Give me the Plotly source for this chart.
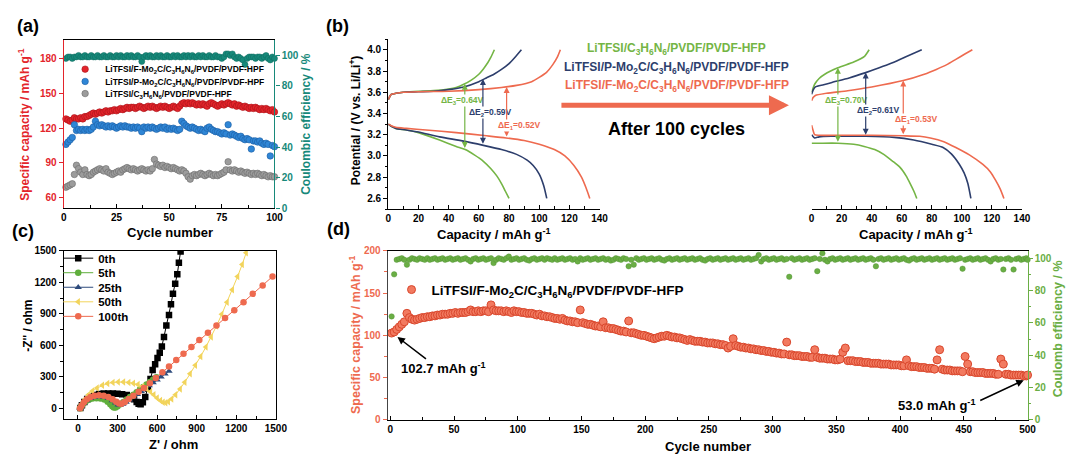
import plotly.graph_objects as go

# ======================= DATA =======================
# ---- panel (a): cycling 100 cycles ----
cycles_a = list(range(1, 101))
cap_F_a = [128, 127, 126, 127, 129, 128, 128, 129, 128, 130,
           130, 131, 132, 133, 132, 133, 134, 133, 134, 135,
           134, 135, 135, 136, 135, 136, 137, 136, 137, 138,
           137, 138, 138, 137, 138, 139, 138, 137, 138, 139,
           138, 139, 138, 137, 138, 139, 138, 139, 138, 137,
           138, 139, 138, 137, 139, 141, 142, 141, 142, 141,
           142, 141, 140, 141, 140, 141, 140, 139, 141, 142,
           141, 140, 139, 140, 141, 140, 141, 142, 141, 140,
           141, 139, 140, 139, 138, 139, 138, 137, 138, 137,
           138, 137, 136, 137, 136, 137, 136, 135, 136, 134]
cap_P_a = [106, 108, 110, 112, 123, 118, 119, 118, 119, 118,
           119, 118, 119, 121, 126, 123, 122, 123, 122, 121,
           122, 121, 122, 121, 120, 121, 122, 121, 122, 121,
           121, 120, 121, 120, 121, 120, 117, 121, 120, 121,
           120, 121, 120, 119, 120, 121, 120, 121, 119, 120,
           119, 120, 119, 118, 119, 126, 124, 122, 121, 120,
           121, 120, 119, 118, 119, 118, 117, 120, 121, 119,
           118, 117, 117, 116, 115, 116, 115, 123, 114, 115,
           114, 113, 112, 113, 111, 110, 111, 110, 102, 109,
           109, 108, 109, 107, 106, 107, 106, 96, 105, 104]
cap_0_a = [69, 70, 71, 72, 80, 88, 85, 82, 80, 84,
           80, 79, 80, 82, 83, 84, 85, 84, 83, 85,
           82, 81, 80, 81, 82, 83, 82, 84, 85, 86,
           85, 84, 85, 84, 83, 84, 85, 84, 83, 84,
           83, 85, 93, 89, 88, 87, 88, 86, 87, 86,
           85, 86, 85, 84, 83, 84, 83, 81, 78, 76,
           79, 80, 79, 80, 81, 80, 79, 80, 81, 80,
           79, 80, 79, 80, 81, 82, 84, 91, 84, 83,
           84, 83, 82, 83, 82, 81, 82, 81, 80, 81,
           80, 81, 80, 79, 80, 79, 78, 79, 78, 78]
ce_a = [98, 99, 99, 98, 99, 99, 100, 99, 99, 100,
        99, 99, 100, 99, 99, 100, 99, 99, 100, 99,
        99, 100, 99, 99, 100, 99, 100, 99, 99, 100,
        99, 100, 99, 99, 100, 99, 96, 99, 100, 99,
        100, 99, 99, 100, 99, 100, 99, 99, 100, 99,
        99, 100, 99, 100, 99, 99, 100, 99, 100, 99,
        100, 99, 99, 100, 99, 100, 99, 99, 100, 99,
        99, 100, 99, 99, 98, 99, 101, 101, 100, 101,
        99, 98, 99, 98, 97, 94, 98, 99, 99, 99,
        98, 99, 99, 98, 99, 100, 98, 97, 99, 98]
names_a = ["LiTFSI/F-Mo<sub>2</sub>C/C<sub>3</sub>H<sub>6</sub>N<sub>6</sub>/PVDF/PVDF-HPF",
           "LiTFSI/P-Mo<sub>2</sub>C/C<sub>3</sub>H<sub>6</sub>N<sub>6</sub>/PVDF/PVDF-HPF",
           "LiTFSI/C<sub>3</sub>H<sub>6</sub>N<sub>6</sub>/PVDF/PVDF-HPF"]

# ---- panel (b): charge/discharge profiles ----
names_b = ["LiTFSI/C<sub>3</sub>H<sub>6</sub>N<sub>6</sub>/PVDF/PVDF-HFP",
           "LiTFSI/P-Mo<sub>2</sub>C/C<sub>3</sub>H<sub>6</sub>N<sub>6</sub>/PVDF/PVDF-HFP",
           "LiTFSI/F-Mo<sub>2</sub>C/C<sub>3</sub>H<sub>6</sub>N<sub>6</sub>/PVDF/PVDF-HFP"]
# fresh cells
g_ch_cap = [0, 1, 2, 5, 10, 20, 30, 40, 45, 50, 55, 60, 63, 66, 68, 70.3]
g_ch_v = [3.53, 3.56, 3.58, 3.59, 3.60, 3.61, 3.615, 3.63, 3.645, 3.675, 3.715, 3.77, 3.82, 3.88, 3.93, 4.0]
b_ch_cap = [0, 1, 2, 5, 10, 20, 30, 40, 50, 60, 65, 70, 75, 80, 84, 88.2]
b_ch_v = [3.53, 3.56, 3.58, 3.59, 3.60, 3.605, 3.61, 3.625, 3.65, 3.70, 3.735, 3.77, 3.815, 3.87, 3.93, 4.0]
r_ch_cap = [0, 1, 2, 5, 10, 20, 40, 60, 75, 85, 95, 100, 105, 109, 112, 114]
r_ch_v = [3.53, 3.56, 3.58, 3.59, 3.60, 3.605, 3.61, 3.625, 3.645, 3.665, 3.70, 3.74, 3.79, 3.86, 3.93, 4.0]
g_dc_cap = [0, 2, 5, 12, 20, 34, 45, 51, 57, 63, 68, 72, 75, 77.5, 80]
g_dc_v = [3.30, 3.28, 3.26, 3.245, 3.22, 3.15, 3.09, 3.06, 3.01, 2.95, 2.88, 2.81, 2.74, 2.67, 2.6]
b_dc_cap = [0, 2, 5, 12, 20, 34, 50, 63, 75, 85, 92, 96, 100, 103, 105]
b_dc_v = [3.30, 3.28, 3.26, 3.245, 3.225, 3.18, 3.14, 3.10, 3.06, 3.015, 2.96, 2.91, 2.83, 2.72, 2.6]
r_dc_cap = [0, 2, 5, 12, 25, 45, 65, 78, 90, 100, 110, 117, 123, 128, 131, 133.5]
r_dc_v = [3.30, 3.285, 3.27, 3.26, 3.245, 3.22, 3.19, 3.17, 3.145, 3.11, 3.06, 3.0, 2.91, 2.80, 2.70, 2.6]
# after 100 cycles
g_ch_cap2 = [0, 1, 2.2, 5, 8.75, 17.5, 28, 35, 38.3]
g_ch_v2 = [3.60, 3.64, 3.68, 3.73, 3.77, 3.83, 3.885, 3.935, 4.0]
b_ch_cap2 = [0, 1, 2.5, 8, 13, 25, 36, 45, 52.5, 62, 73.3]
b_ch_v2 = [3.58, 3.62, 3.65, 3.67, 3.69, 3.735, 3.785, 3.83, 3.87, 3.93, 4.0]
r_ch_cap2 = [0, 1, 2.5, 10, 24, 40, 61, 75, 83, 90, 96, 102, 107]
r_ch_v2 = [3.52, 3.55, 3.57, 3.59, 3.615, 3.65, 3.71, 3.77, 3.815, 3.86, 3.91, 3.96, 4.0]
r_dc_cap2 = [0, 1, 2, 5, 20, 40, 61, 72, 79, 88, 96, 105, 114, 119, 122.5, 125.5, 128]
r_dc_v2 = [3.29, 3.24, 3.2, 3.195, 3.195, 3.195, 3.19, 3.185, 3.17, 3.135, 3.08, 3.01, 2.92, 2.85, 2.77, 2.69, 2.6]
b_dc_cap2 = [0, 2, 5, 13, 36, 55, 68, 80, 87.5, 93, 98.4, 101.5, 104, 106]
b_dc_v2 = [3.20, 3.17, 3.18, 3.185, 3.185, 3.175, 3.15, 3.11, 3.08, 3.02, 2.92, 2.84, 2.74, 2.6]
g_dc_cap2 = [0, 5, 17.5, 28, 35, 42, 48, 54, 59, 63, 65.6, 68, 70]
g_dc_v2 = [3.12, 3.12, 3.12, 3.11, 3.09, 3.06, 3.015, 2.95, 2.89, 2.81, 2.74, 2.67, 2.6]
# polarization markers (capacity, charge V, discharge V, label)
dE_fresh = [(50.7, 3.68, 3.06, "ΔE<sub>3</sub>=0.64V"), (62.7, 3.725, 3.10, "ΔE<sub>2</sub>=0.59V"),
            (78.4, 3.65, 3.17, "ΔE<sub>1</sub>=0.52V")]
dE_after = [(17.5, 3.83, 3.12, "ΔE<sub>3</sub>=0.70V"), (36, 3.785, 3.185, "ΔE<sub>2</sub>=0.61V"),
            (61, 3.71, 3.19, "ΔE<sub>1</sub>=0.53V")]

# ---- panel (c): EIS ----
eis_names = ["0th", "5th", "25th", "50th", "100th"]
Zr_0 = [18, 30, 48, 70, 95, 125, 160, 195, 230, 265, 300, 335, 370, 400, 425, 445, 460, 475, 492, 510,
        530, 550, 566, 585, 603, 620, 636, 652, 670, 690, 705, 720, 737, 753, 765, 778]
Zi_0 = [5, 30, 62, 90, 112, 128, 138, 142, 143, 142, 140, 136, 128, 112, 88, 62, 45, 40, 60, 110,
        190, 280, 365, 420, 479, 530, 590, 680, 789, 888, 990, 1092, 1185, 1277, 1385, 1494]
Zr_5 = [15, 25, 40, 60, 85, 110, 140, 170, 200, 225, 245, 260, 272, 285, 300, 320, 345, 370, 395, 420,
        445, 470, 495, 520, 545, 570, 595]
Zi_5 = [3, 22, 45, 68, 85, 95, 98, 95, 85, 65, 40, 20, 8, 10, 22, 40, 62, 85, 108, 130,
        155, 180, 205, 228, 252, 275, 298]
Zr_25 = [15, 28, 45, 68, 95, 125, 160, 195, 230, 260, 285, 305, 320, 340, 365, 390, 420, 450, 480, 510,
         540, 570, 600, 630, 660, 690]
Zi_25 = [3, 25, 50, 75, 95, 108, 112, 108, 95, 75, 52, 35, 32, 42, 60, 82, 108, 135, 162, 190,
         218, 245, 272, 300, 328, 355]
Zr_50 = [20, 35, 55, 80, 110, 145, 185, 225, 265, 305, 345, 385, 420, 455, 490, 520, 550, 575, 600, 625,
         645, 665, 685, 710, 740, 775, 810, 850, 890, 930, 970, 1010, 1050, 1090, 1130, 1170, 1210, 1245, 1275]
Zi_50 = [3, 45, 90, 130, 165, 195, 220, 238, 248, 252, 252, 248, 240, 228, 210, 188, 160, 130, 100, 75,
         60, 55, 65, 90, 130, 185, 250, 330, 410, 495, 585, 680, 785, 895, 1010, 1130, 1255, 1370, 1480]
Zr_100 = [15, 28, 45, 68, 95, 125, 160, 195, 230, 262, 290, 312, 330, 355, 385, 420, 460, 500, 545, 590,
          640, 690, 745, 800, 860, 920, 985, 1050, 1115, 1185, 1255, 1325, 1400, 1475]
Zi_100 = [3, 28, 58, 88, 110, 122, 126, 122, 108, 88, 65, 48, 45, 62, 90, 122, 158, 195, 240, 290,
          345, 400, 460, 520, 585, 650, 720, 790, 860, 935, 1010, 1090, 1170, 1255]

# ---- panel (d): long cycling (every 2nd cycle) ----
cycles_d = list(range(1, 500, 2)) + [500]
cap_d = [102.7, 104, 107, 110, 113, 116, 126, 121, 119, 118,
         119, 120, 121, 121, 122, 122, 123, 123, 124, 124,
         125, 125, 125, 126, 126, 127, 126, 127, 127, 127,
         128, 130, 128, 128, 129, 128, 129, 129, 128, 136,
         130, 129, 129, 129, 128, 129, 128, 127, 129, 128,
         128, 127, 127, 126, 126, 126, 125, 124, 125, 123,
         123, 122, 122, 121, 120, 120, 119, 120, 118, 117,
         117, 116, 116, 115, 130, 115, 114, 113, 113, 112,
         111, 111, 110, 116, 109, 109, 108, 108, 107, 106,
         105, 105, 104, 117, 103, 103, 102, 101, 100, 100,
         99, 98, 97, 96, 97, 98, 99, 99, 100, 99,
         98, 98, 97, 97, 96, 95, 94, 95, 94, 93,
         93, 93, 92, 92, 91, 91, 91, 90, 90, 89,
         89, 88, 85, 87, 96, 88, 87, 86, 86, 85,
         85, 84, 84, 83, 83, 82, 82, 81, 81, 80,
         80, 79, 79, 78, 78, 92, 77, 77, 76, 76,
         76, 75, 75, 75, 74, 74, 83, 74, 73, 73,
         73, 72, 72, 72, 71, 71, 72, 80, 85, 70,
         70, 70, 69, 69, 69, 68, 68, 68, 67, 67,
         67, 67, 66, 66, 66, 66, 65, 65, 65, 65,
         64, 64, 71, 64, 63, 63, 63, 62, 62, 62,
         61, 61, 61, 60, 71, 83, 60, 59, 59, 59,
         58, 58, 58, 58, 57, 75, 66, 57, 57, 56,
         56, 56, 56, 55, 55, 55, 55, 54, 54, 72,
         66, 54, 54, 53, 53, 53, 53, 53, 52, 52,
         53.0]
ce_d = [64, 90, 99, 99.5, 100, 99, 96, 99, 100, 99.5,
        99, 100, 99.5, 99, 100, 99, 99.5, 100, 99, 99.5,
        100, 99, 99.5, 100, 99, 99.5, 100, 99, 99.5, 100,
        99, 98, 99.5, 100, 99, 99.5, 100, 99, 99.5, 100,
        97, 99, 100, 99.5, 99, 100, 101, 99, 99.5, 100,
        99, 99.5, 100, 99, 98.5, 99.5, 100, 99, 99.5, 100,
        99, 100, 99.5, 99, 100, 99, 99.5, 100, 99, 99.5,
        100, 99, 99.5, 98, 100, 99, 99.5, 100, 99, 99.5,
        100, 99, 99.5, 100, 99, 99.5, 98.5, 99, 100, 99.5,
        99, 100, 99.5, 95, 99, 96, 100, 99, 99.5, 100,
        99, 99.5, 100, 99, 99.5, 100, 99, 98.5, 99.5, 100,
        99, 99.5, 100, 99, 99.5, 100, 99, 99.5, 100, 99,
        99.5, 100, 99, 98.5, 99.5, 100, 99, 99.5, 100, 99,
        99.5, 100, 99, 99.5, 100, 99, 99.5, 100, 99, 99.5,
        100, 99, 99.5, 100, 102, 98, 99.5, 100, 99, 99.5,
        100, 99, 99.5, 100, 99, 99.5, 88.5, 100, 99, 99.5,
        100, 99, 99.5, 100, 99, 99.5, 100, 92, 99.5, 103,
        99, 98, 99.5, 100, 99, 99.5, 100, 99, 99.5, 100,
        99, 99.5, 100, 99, 99.5, 100, 99, 99.5, 100, 99,
        95, 99.5, 100, 99, 99.5, 100, 99, 99.5, 100, 99,
        99.5, 100, 99, 98.5, 99.5, 100, 99, 99.5, 100, 99,
        99.5, 100, 99, 99.5, 100, 99, 99.5, 100, 99, 99.5,
        100, 99, 99.5, 100, 93.5, 99, 99.5, 100, 99, 99.5,
        100, 99, 99.5, 100, 99, 98, 99.5, 100, 99, 99.5,
        93, 99.5, 100, 99, 93, 99.5, 100, 99, 99.5, 100,
        99]
name_d = "LiTFSI/F-Mo<sub>2</sub>C/C<sub>3</sub>H<sub>6</sub>N<sub>6</sub>/PVDF/PVDF-HFP"

# ======================= STYLE =======================
W, H = 1080, 465
FONT = "Liberation Sans, Arial, Helvetica, sans-serif"
RED_A, BLUE_A, GREY_A, TEAL = "#e3242b", "#2f86d6", "#9c9c9c", "#17897a"
GRN, NAVY, SAL = "#74b545", "#2d3e6c", "#ee6a4f"
C_GRN, C_NAVY, C_YEL = "#5fae3c", "#2e4b7c", "#f2d45c"
D_GRN = "#6aae45"


def px(x):
    return x / W


def py(y):
    return 1 - y / H


def bf(size, color="black"):
    return dict(family=FONT, size=size, color=color, weight="bold")


fig = go.Figure()

# ---------- (a) ----------
fig.add_trace(go.Scatter(x=cycles_a, y=ce_a, mode="markers", xaxis="x", yaxis="y2", showlegend=False,
                         cliponaxis=False,
                         marker=dict(size=6, color=TEAL, line=dict(color="#0f6b5e", width=0.5))))
for vals, col, edge, nm, lg in [(cap_F_a, RED_A, "#a8141a", names_a[0], "legend"),
                                (cap_P_a, BLUE_A, "#1c5ea3", names_a[1], "legend2"),
                                (cap_0_a, GREY_A, "#6c6c6c", names_a[2], "legend3")]:
    fig.add_trace(go.Scatter(x=cycles_a, y=vals, mode="markers", xaxis="x", yaxis="y", name=nm, legend=lg,
                             cliponaxis=False,
                             marker=dict(size=6.5, color=col, line=dict(color=edge, width=0.6))))

# ---------- (b) ----------
curves_fresh = [(g_ch_cap, g_ch_v, GRN), (g_dc_cap, g_dc_v, GRN), (b_ch_cap, b_ch_v, NAVY),
                (b_dc_cap, b_dc_v, NAVY), (r_ch_cap, r_ch_v, SAL), (r_dc_cap, r_dc_v, SAL)]
curves_after = [(g_ch_cap2, g_ch_v2, GRN), (g_dc_cap2, g_dc_v2, GRN), (b_ch_cap2, b_ch_v2, NAVY),
                (b_dc_cap2, b_dc_v2, NAVY), (r_ch_cap2, r_ch_v2, SAL), (r_dc_cap2, r_dc_v2, SAL)]
for xs, ys, col in curves_fresh:
    fig.add_trace(go.Scatter(x=xs, y=ys, mode="lines", xaxis="x2", yaxis="y3", showlegend=False,
                             line=dict(color=col, width=1.6, shape="spline", smoothing=0.6)))
for xs, ys, col in curves_after:
    fig.add_trace(go.Scatter(x=xs, y=ys, mode="lines", xaxis="x3", yaxis="y4", showlegend=False,
                             line=dict(color=col, width=1.6, shape="spline", smoothing=0.6)))

# ---------- (c) ----------
eis = [(Zr_0, Zi_0, "black", "square", "legend4"),
       (Zr_5, Zi_5, C_GRN, "circle", "legend5"),
       (Zr_25, Zi_25, C_NAVY, "triangle-up", "legend6"),
       (Zr_50, Zi_50, C_YEL, "triangle-left", "legend7"),
       (Zr_100, Zi_100, SAL, "circle", "legend8")]
for (zr, zi, col, sym, lg), nm in zip(eis, eis_names):
    fig.add_trace(go.Scatter(x=zr, y=zi, mode="lines+markers", xaxis="x4", yaxis="y5", name=nm, legend=lg,
                             line=dict(color=col, width=1),
                             marker=dict(symbol=sym, size=6.5, color=col)))

# ---------- (d) ----------
fig.add_trace(go.Scatter(x=cycles_d, y=ce_d, mode="markers", xaxis="x5", yaxis="y7", showlegend=False,
                         cliponaxis=False, marker=dict(size=5.5, color=D_GRN, line=dict(color="#4f8f30", width=0.4))))
fig.add_trace(go.Scatter(x=cycles_d, y=cap_d, mode="markers", xaxis="x5", yaxis="y6", name=name_d,
                         legend="legend9", cliponaxis=False,
                         marker=dict(size=8, color="#f27a60", line=dict(color="#d9472d", width=1))))

# ======================= AXES =======================
common = dict(showgrid=False, zeroline=False, showline=True, linewidth=1.3, ticklen=4, tickwidth=1.2)

fig.update_layout(
    xaxis=dict(common, domain=[px(61.7), px(275.3)], range=[0, 100], anchor="y", linecolor="black",
               mirror=True, tickvals=[0, 25, 50, 75, 100], ticks="inside", tickcolor="black",
               tickfont=bf(10), minor=dict(ticks="inside", ticklen=2.5, tickcolor="black", dtick=12.5)),
    yaxis=dict(common, domain=[py(208), py(36)], range=[51, 196], anchor="x", linecolor=RED_A,
               tickvals=[60, 90, 120, 150, 180], ticks="outside", tickcolor=RED_A, tickfont=bf(10, RED_A)),
    yaxis2=dict(common, overlaying="y", side="right", range=[0, 110], anchor="x", linecolor=TEAL,
                tickvals=[0, 20, 40, 60, 80, 100], ticks="outside", tickcolor=TEAL, tickfont=bf(10, TEAL)),
    xaxis2=dict(common, domain=[px(390.7), px(605)], range=[0, 140], anchor="y3", linecolor="black",
                tickvals=list(range(0, 141, 20)), ticks="inside", tickcolor="black", tickfont=bf(10),
                minor=dict(ticks="inside", ticklen=2.5, tickcolor="black", dtick=10)),
    yaxis3=dict(common, domain=[py(209), py(35)], range=[2.5, 4.1], anchor="x2", linecolor="black",
                tickvals=[2.6, 2.8, 3.0, 3.2, 3.4, 3.6, 3.8, 4.0], tickformat=".1f", ticks="outside",
                tickcolor="black", tickfont=bf(10),
                minor=dict(ticks="outside", ticklen=2.5, tickcolor="black", dtick=0.1)),
    xaxis3=dict(common, domain=[px(820), px(1033.3)], range=[0, 140], anchor="y4", linecolor="black",
                tickvals=list(range(0, 141, 20)), ticks="inside", tickcolor="black", tickfont=bf(10),
                minor=dict(ticks="inside", ticklen=2.5, tickcolor="black", dtick=10)),
    yaxis4=dict(domain=[py(209), py(35)], range=[2.5, 4.1], anchor="x3", visible=False),
    xaxis4=dict(common, domain=[px(61.7), px(276.7)], range=[-107, 1500], anchor="y5", linecolor="black",
                mirror=True, tickvals=list(range(0, 1501, 300)), ticks="inside", tickcolor="black",
                tickfont=bf(10), minor=dict(ticks="inside", ticklen=2.5, tickcolor="black", dtick=150)),
    yaxis5=dict(common, domain=[py(424), py(251.7)], range=[-100, 1500], anchor="x4", linecolor="black",
                mirror=True, tickvals=list(range(0, 1501, 300)), ticks="outside", tickcolor="black",
                tickfont=bf(10), minor=dict(ticks="outside", ticklen=2.5, tickcolor="black", dtick=150)),
    xaxis5=dict(common, domain=[px(390.2), px(1039)], range=[-2, 500], anchor="y6", linecolor="black",
                mirror=True, tickvals=list(range(0, 501, 50)), ticks="inside", tickcolor="black",
                tickfont=bf(10), minor=dict(ticks="inside", ticklen=2.5, tickcolor="black", dtick=25)),
    yaxis6=dict(common, domain=[py(425), py(251.7)], range=[0, 200], anchor="x5", linecolor="#444444",
                tickvals=[0, 50, 100, 150, 200], ticks="outside", tickcolor=SAL, tickfont=bf(10, SAL),
                minor=dict(ticks="outside", ticklen=2.5, tickcolor=SAL, dtick=25)),
    yaxis7=dict(common, overlaying="y6", side="right", range=[0, 104.6], anchor="x5", linecolor=D_GRN,
                tickvals=[0, 20, 40, 60, 80, 100], ticks="outside", tickcolor=D_GRN, tickfont=bf(10, D_GRN),
                minor=dict(ticks="outside", ticklen=2.5, tickcolor=D_GRN, dtick=10)),
)


# ======================= LEGENDS =======================
def leg(xp, yp, size):
    return dict(x=px(xp), y=py(yp), xanchor="left", yanchor="middle", bgcolor="rgba(0,0,0,0)",
                borderwidth=0, font=bf(size), itemsizing="trace", tracegroupgap=0)


fig.update_layout(
    legend=leg(63, 65.7, 8.5), legend2=leg(63, 78.3, 8.5), legend3=leg(63, 90.7, 8.5),
    legend4=leg(56, 259.3, 11.5), legend5=leg(56, 274.2, 11.5), legend6=leg(56, 289.1, 11.5),
    legend7=leg(56, 304, 11.5), legend8=leg(56, 318.9, 11.5),
    legend9=leg(394, 291.7, 13.5),
)

# ======================= ANNOTATIONS =======================
ann = []


def text(x, y, s, size, color="black", angle=0, xanchor="center"):
    ann.append(dict(x=px(x), y=py(y), xref="paper", yref="paper", text=s, showarrow=False,
                    font=bf(size, color), textangle=angle, xanchor=xanchor, yanchor="middle"))


# panel labels
text(25, 21, "(a)", 18)
text(339, 22, "(b)", 18)
text(20, 231, "(c)", 18)
text(340, 229, "(d)", 18)
# axis titles
text(21, 122, "Specific capacity / mAh g<sup>-1</sup>", 12, RED_A, -90)
text(307, 122, "Coulombic efficiency / %", 12, TEAL, -90)
text(169, 233, "Cycle number", 13)
text(357, 118, "Potential / (V vs. Li/Li<sup>+</sup>)", 12, "black", -90)
text(498, 235, "Capacity / mAh g<sup>-1</sup>", 13)
text(926, 235, "Capacity / mAh g<sup>-1</sup>", 13)
text(26, 329, "-Z'' / ohm", 12, "black", -90)
text(173, 450, "Z' / ohm", 13)
text(357, 338, "Specific capacity / mAh g<sup>-1</sup>", 12.5, SAL, -90)
text(1070, 332, "Coulomb efficiency / %", 12.5, D_GRN, -90)
text(715, 452, "Cycle number", 13)
# (b) middle legend
text(683, 45, names_b[0], 12, GRN)
text(683, 65, names_b[1], 12, NAVY)
text(683, 83, names_b[2], 12, SAL)
text(683, 127, "After 100 cycles", 18)
ann.append(dict(x=px(797), y=py(102.7), xref="paper", yref="paper", ax=-229, ay=0, text="",
                showarrow=True, arrowhead=2, arrowsize=0.8, arrowwidth=5, arrowcolor=SAL))

# (b) polarization arrows + labels
lab_pos_fresh = [(49.5, 3.52), (67.8, 3.41), (86.7, 3.29)]
lab_pos_after = [(23, 3.52), (44.4, 3.43), (69.6, 3.345)]
cols = [GRN, NAVY, SAL]
for dset, (xr, yr), labpos in [(dE_fresh, ("x2", "y3"), lab_pos_fresh), (dE_after, ("x3", "y4"), lab_pos_after)]:
    for (cx, vtop, vbot, lab), col, (lx, ly) in zip(dset, cols, labpos):
        ann.append(dict(x=cx, y=vtop, ax=cx, ay=vbot, xref=xr, yref=yr, axref=xr, ayref=yr, text="",
                        showarrow=True, arrowhead=2, startarrowhead=2, arrowside="end+start",
                        arrowsize=1, startarrowsize=1, arrowwidth=1.2, arrowcolor=col))
        ann.append(dict(x=lx, y=ly, xref=xr, yref=yr, text=lab, showarrow=False, font=bf(8.5, col),
                        bgcolor="white", borderpad=0))

# (d) value call-outs
text(446.5, 371.7, "102.7 mAh g<sup>-1</sup>", 13)
ann.append(dict(x=5.6, y=98, xref="x5", yref="y6", ax=30, ay=23, text="", showarrow=True,
                arrowhead=2, arrowsize=1, arrowwidth=1.5, arrowcolor="black"))
text(946.7, 409.3, "53.0 mAh g<sup>-1</sup>", 13)
ann.append(dict(x=497, y=47, xref="x5", yref="y6", ax=-45, ay=21, text="", showarrow=True,
                arrowhead=2, arrowsize=1, arrowwidth=1.5, arrowcolor="black"))

fig.update_layout(annotations=ann, width=W, height=H, margin=dict(l=0, r=0, t=0, b=0),
                  plot_bgcolor="white", paper_bgcolor="white", font=dict(family=FONT))

fig.write_html("out.html")
